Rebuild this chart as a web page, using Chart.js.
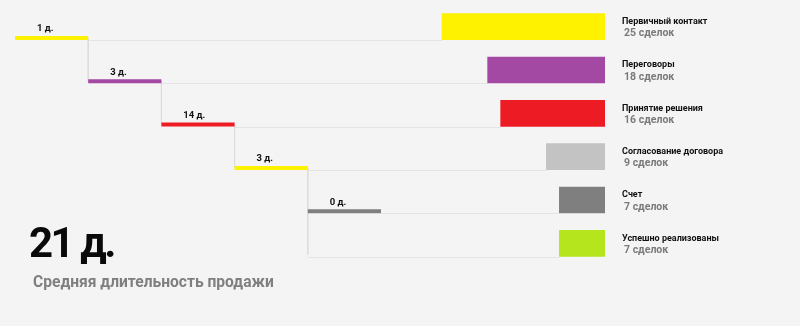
<!DOCTYPE html>
<html>
<head>
<meta charset="utf-8">
<script src="https://cdn.jsdelivr.net/npm/chart.js@4/dist/chart.umd.min.js"></script>
<style>
    body { margin: 0; background: #f4f4f4; }
    #wrap { position: relative; width: 800px; height: 326px; overflow: hidden; }
    #funnel { position: absolute; left: 0; top: 0; }
    #total { position: absolute; left: 29px; top: 218px; font: 700 42px Roboto, sans-serif; letter-spacing: -2.5px; color: #0a0a0a; }
    #total-caption { position: absolute; left: 33px; top: 273px; font: 700 15.6px Roboto, sans-serif; color: #7f7f7f; }
</style>
</head>
<body>
<div id="wrap">
    <canvas id="funnel" width="800" height="326"></canvas>
    <div id="total"></div>
    <div id="total-caption">Средняя длительность продажи</div>
</div>
<script>
const stages = ['Первичный контакт', 'Переговоры', 'Принятие решения', 'Согласование договора', 'Счет', 'Успешно реализованы'];
const deals = [25, 18, 16, 9, 7, 7];
const stageDays = [1, 3, 14, 3, 0];
const avgDays = 21;

const stageColors = ['#fff200', '#a349a4', '#ed1c24', '#c3c3c3', '#7f7f7f', '#b5e61d'];
const stepColors = ['#fff200', '#a349a4', '#ed1c24', '#fff200', '#7f7f7f'];

const ROW_OFF = 0.26;   // timeline sits near the bottom edge of each row

document.getElementById('total').textContent = `${avgDays} д.`;

function buildStairs() {
    const pts = [{ x: 0, y: ROW_OFF }];
    const n = stageDays.length;
    for (let k = 1; k < n; k++) {
        const toRow = (k === n - 1) ? stages.length - 1 : k;
        pts.push({ x: k, y: k - 1 + ROW_OFF });
        pts.push({ x: k, y: toRow + ROW_OFF });
    }
    return pts;
}

const datasets = [{
    type: 'bar',
    indexAxis: 'y',
    xAxisID: 'x',
    yAxisID: 'y',
    data: deals,
    backgroundColor: stageColors,
    barThickness: 26,
    grouped: false,
    order: 3
}, {
    type: 'line',
    xAxisID: 'xT',
    yAxisID: 'yT',
    data: buildStairs(),
    borderColor: '#dcdcdc',
    borderWidth: 1,
    pointRadius: 0,
    fill: false,
    order: 2
}];

stageDays.forEach((d, k) => {
    datasets.push({
        type: 'line',
        xAxisID: 'xT',
        yAxisID: 'yT',
        data: [{ x: k, y: k + ROW_OFF }, { x: k + 1, y: k + ROW_OFF }],
        borderColor: stepColors[k],
        borderWidth: 4,
        borderCapStyle: 'butt',
        pointRadius: 0,
        fill: false,
        order: 1
    });
});

const labelsPlugin = {
    id: 'funnelLabels',
    beforeDatasetsDraw(chart) {
        const { ctx } = chart;
        const x = chart.scales.x, xT = chart.scales.xT, yT = chart.scales.yT;
        ctx.save();
        ctx.strokeStyle = '#e4e4e4';
        ctx.lineWidth = 1;
        stages.forEach((s, k) => {
            const startIdx = k < stageDays.length ? k + 1 : stageDays.length - 1;
            const y = Math.round(yT.getPixelForValue(k + ROW_OFF)) + 2.5;
            ctx.beginPath();
            ctx.moveTo(xT.getPixelForValue(startIdx), y);
            ctx.lineTo(x.getPixelForValue(deals[k]), y);
            ctx.stroke();
        });
        ctx.restore();
    },
    afterDatasetsDraw(chart) {
        const { ctx, chartArea } = chart;
        const y = chart.scales.y, xT = chart.scales.xT, yT = chart.scales.yT;
        ctx.save();
        ctx.textBaseline = 'middle';
        ctx.textAlign = 'left';
        stages.forEach((s, k) => {
            const cy = y.getPixelForValue(k);
            ctx.fillStyle = '#111';
            ctx.font = 'bold 9px "Liberation Sans Narrow", Roboto, sans-serif';
            ctx.fillText(s, chartArea.right + 17, cy - 5);
            ctx.fillStyle = '#7a7a7a';
            ctx.font = 'bold 10.5px Roboto, sans-serif';
            ctx.fillText(`${deals[k]} сделок`, chartArea.right + 19, cy + 7);
        });
        ctx.fillStyle = '#111';
        ctx.font = 'bold 9.5px Roboto, sans-serif';
        stageDays.forEach((d, k) => {
            ctx.fillText(`${d} д.`, xT.getPixelForValue(k + 0.3), yT.getPixelForValue(k + ROW_OFF) - 9);
        });
        ctx.restore();
    }
};

new Chart(document.getElementById('funnel'), {
    type: 'bar',
    data: { labels: stages, datasets: datasets },
    options: {
        responsive: false,
        animation: false,
        layout: { padding: { left: 15, right: 195, top: 5, bottom: 61 } },
        plugins: { legend: { display: false }, tooltip: { enabled: false } },
        scales: {
            x: { type: 'linear', reverse: true, min: 0, max: 90.5, offset: false, display: false },
            y: { type: 'category', offset: true, display: false },
            xT: { type: 'linear', min: 0, max: 8.06, offset: false, display: false },
            yT: { type: 'linear', reverse: true, min: -0.5, max: 5.5, offset: false, display: false }
        }
    },
    plugins: [labelsPlugin]
});
</script>
</body>
</html>
